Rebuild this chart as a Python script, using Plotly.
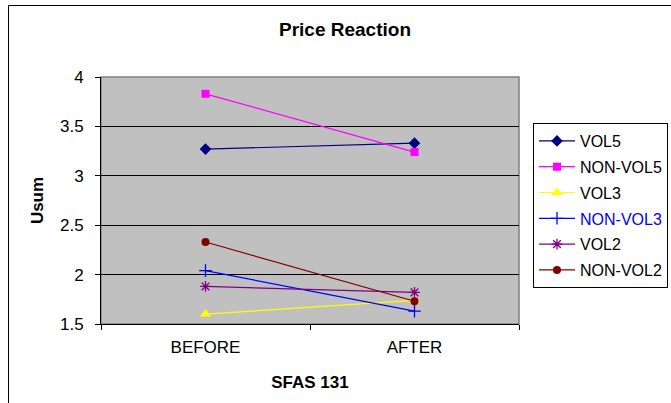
import plotly.graph_objects as go

categories = ["BEFORE", "AFTER"]
vol5 = [3.27, 3.33]
nonvol5 = [3.83, 3.24]
vol3 = [1.60, 1.74]
nonvol3 = [2.04, 1.63]
vol2 = [1.88, 1.82]
nonvol2 = [2.33, 1.73]

series = [
    ("VOL5", vol5, "#000080", "diamond", 9, "black"),
    ("NON-VOL5", nonvol5, "#FF00FF", "square", 8, "black"),
    ("VOL3", vol3, "#FFFF00", "triangle-up", 10, "black"),
    ("NON-VOL3", nonvol3, "#0000FF", "cross-thin", 9, "#0000FF"),
    ("VOL2", vol2, "#800080", "asterisk", 9, "black"),
    ("NON-VOL2", nonvol2, "#800000", "circle", 8, "black"),
]

fig = go.Figure()
for name, vals, color, sym, msize, tcol in series:
    label = name if tcol == "black" else f'<span style="color:{tcol}">{name}</span>'
    thin = sym in ("cross-thin", "asterisk")
    fig.add_trace(go.Scatter(
        x=categories, y=vals, mode="lines+markers", name=label,
        legendgroup=name,
        line=dict(color=color, width=1.2),
        marker=dict(symbol=sym, size=msize, color=color,
                    line=dict(color=color, width=1.3 if thin else 0)),
    ))

L, R, T, B = 101, 519, 77, 324
W, H = 671, 403
pw, ph = R - L, B - T

def px(x):
    return (x - L) / pw

def py(y):
    return (B - y) / ph

FONT = "Liberation Sans, Arial, sans-serif"

fig.update_layout(
    width=W, height=H,
    margin=dict(l=L, r=W - R, t=T, b=H - B, autoexpand=False),
    paper_bgcolor="white",
    plot_bgcolor="#C0C0C0",
    font=dict(family=FONT, size=16, color="black"),
    title=dict(text="<b>Price Reaction</b>", x=345 / W, xref="container", xanchor="center",
               y=1 - 29 / H, yref="container", yanchor="middle",
               font=dict(size=19, color="black")),
    showlegend=True,
    legend=dict(x=px(533), y=py(123), xanchor="left", yanchor="top",
                bordercolor="black", borderwidth=1, bgcolor="white",
                font=dict(size=16, color="black"), tracegroupgap=2,
                itemwidth=36),
    xaxis=dict(
        type="category", range=[-0.5, 1.5], tickson="boundaries", ticks="outside", ticklen=5,
        tickcolor="black", showline=True, linecolor="black", linewidth=1,
        showgrid=False, zeroline=False, ticklabelstandoff=8,
        tickfont=dict(size=17),
        title=dict(text="<b>SFAS 131</b>", font=dict(size=17), standoff=19),
    ),
    yaxis=dict(
        range=[1.5, 4], dtick=0.5, tick0=1.5, ticks="outside", ticklen=5,
        tickcolor="black", showline=True, linecolor="black", linewidth=1,
        showgrid=True, gridcolor="black", gridwidth=1, zeroline=False,
        ticklabelstandoff=8, tickfont=dict(size=17),
        title=dict(text="<b>Usum</b>", font=dict(size=17), standoff=12),
    ),
    shapes=[
        dict(type="rect", xref="paper", yref="paper", x0=0, x1=1, y0=0, y1=1,
             line=dict(color="#808080", width=1.5), layer="below"),
        dict(type="rect", xref="paper", yref="paper", x0=px(8.5), x1=px(700),
             y0=py(5.5), y1=py(430), line=dict(color="black", width=1)),
    ],
)

fig.write_html("out.html", config={"displayModeBar": False},
               post_script="document.body.style.margin='0px';")
